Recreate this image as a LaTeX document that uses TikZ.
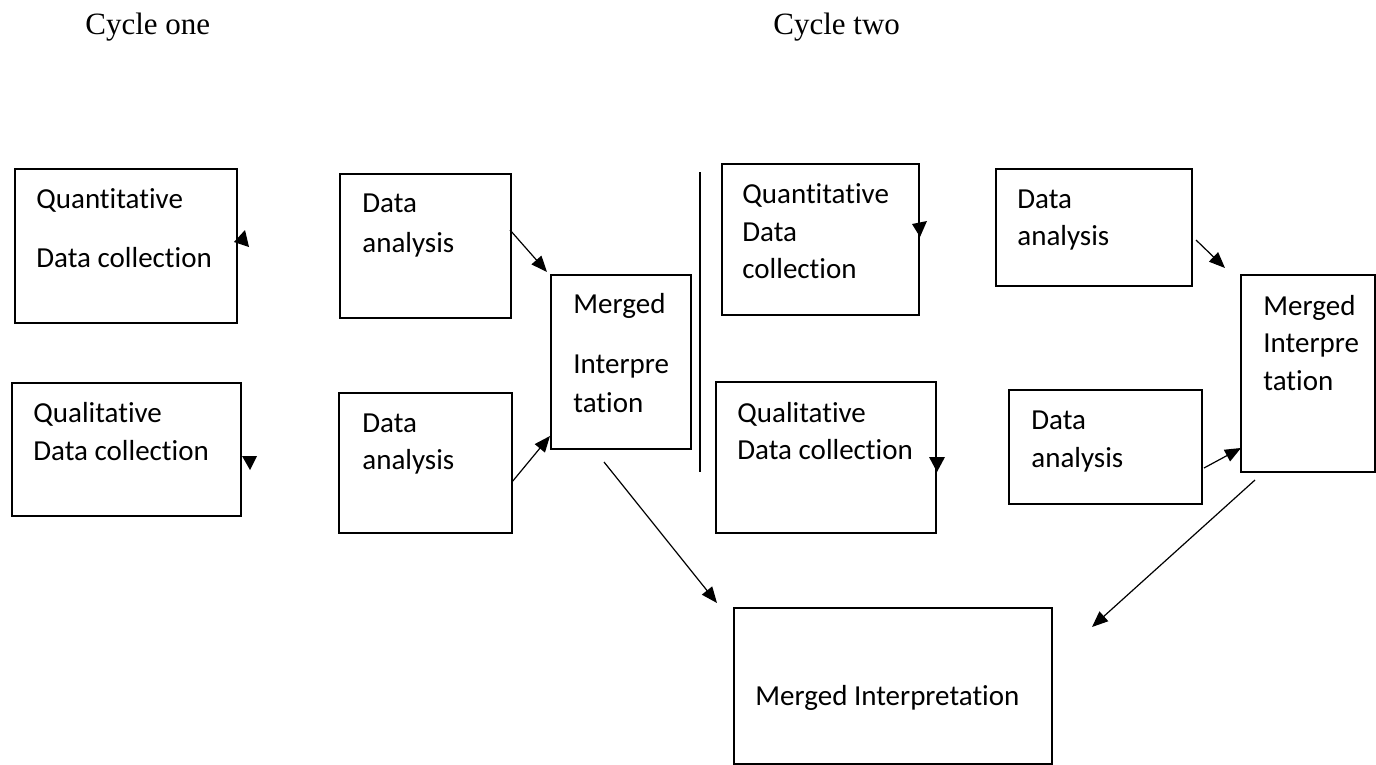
\documentclass[tikz,border=0pt]{standalone}
\usepackage{fontspec}
\setmainfont{Carlito}[Ligatures=CommonOff]
\newfontfamily\titlefont{Liberation Serif}
\usetikzlibrary{arrows.meta,fit}

\tikzset{
  box/.style={draw, line width=0.8pt, inner sep=0pt, fill=none},
  txt/.style={anchor=base west, inner sep=0pt, font=\fontsize{14.5}{17.4}\selectfont},
  ttl/.style={anchor=base west, inner sep=0pt, font=\titlefont\fontsize{15.5}{18}\selectfont},
  conn/.style={line width=0.6pt, -{Triangle[length=8pt,width=6.5pt]}},
  head/.style={fill=black},
  divider/.style={line width=0.6pt}
}

\begin{document}
\begin{tikzpicture}[x=0.5pt, y=-0.5pt]
\useasboundingbox (0,0) rectangle (1376,765);

% titles
\node[ttl] (t1) at (85,35) {Cycle one};
\node[ttl] (t2) at (773,35) {Cycle two};

% box corners
\coordinate (b1a) at (15,169);   \coordinate (b1b) at (237,323);
\coordinate (b2a) at (12,383);   \coordinate (b2b) at (241,516);
\coordinate (b3a) at (340,174);  \coordinate (b3b) at (511,318);
\coordinate (b4a) at (339,393);  \coordinate (b4b) at (512,533);
\coordinate (b5a) at (551,275);  \coordinate (b5b) at (691,449);
\coordinate (b6a) at (722,164);  \coordinate (b6b) at (919,315);
\coordinate (b7a) at (716,382);  \coordinate (b7b) at (936,533);
\coordinate (b8a) at (996,169);  \coordinate (b8b) at (1192,286);
\coordinate (b9a) at (1009,390); \coordinate (b9b) at (1202,504);
\coordinate (b10a) at (1241,275); \coordinate (b10b) at (1375,472);
\coordinate (b11a) at (734,608); \coordinate (b11b) at (1052,764);

% boxes
\node[box, fit=(b1a)(b1b)] (qn1) {};
\node[box, fit=(b2a)(b2b)] (ql1) {};
\node[box, fit=(b3a)(b3b)] (da1) {};
\node[box, fit=(b4a)(b4b)] (da2) {};
\node[box, fit=(b5a)(b5b)] (mi1) {};
\node[box, fit=(b6a)(b6b)] (qn2) {};
\node[box, fit=(b7a)(b7b)] (ql2) {};
\node[box, fit=(b8a)(b8b)] (da3) {};
\node[box, fit=(b9a)(b9b)] (da4) {};
\node[box, fit=(b10a)(b10b)] (mi2) {};
\node[box, fit=(b11a)(b11b)] (mi3) {};

% box texts
\node[txt] (qn1x) at (36,208) {Quantitative};
\node[txt] (qn1y) at (36,267) {Data collection};
\node[txt] (ql1x) at (33,422) {Qualitative};
\node[txt] (ql1y) at (33,460) {Data collection};
\node[txt] (da1x) at (362,213) {Data};
\node[txt] (da1y) at (362,252) {analysis};
\node[txt] (da2x) at (362,432) {Data};
\node[txt] (da2y) at (362,469) {analysis};
\node[txt] (mi1x) at (573,313) {Merged};
\node[txt] (mi1y) at (573,373) {Interpre};
\node[txt] (mi1z) at (573,412) {tation};
\node[txt] (qn2x) at (742,203) {Quantitative};
\node[txt] (qn2y) at (742,242) {Data};
\node[txt] (qn2z) at (742,278) {collection};
\node[txt] (ql2x) at (737,422) {Qualitative};
\node[txt] (ql2y) at (737,459) {Data collection};
\node[txt] (da3x) at (1017,208) {Data};
\node[txt] (da3y) at (1017,245) {analysis};
\node[txt] (da4x) at (1031,429) {Data};
\node[txt] (da4y) at (1031,467) {analysis};
\node[txt] (mi2x) at (1263,315) {Merged};
\node[txt] (mi2y) at (1263,352) {Interpre};
\node[txt] (mi2z) at (1263,390) {tation};
\node[txt] (mi3x) at (755,705) {Merged Interpretation};

% divider between the two cycles
\coordinate (dv1) at (700,172);
\coordinate (dv2) at (700,472);
\draw[divider] (dv1) -- (dv2);

% connector ends
\coordinate (c1s) at (510,230);   \coordinate (c1e) at (547,272);
\coordinate (c2s) at (512,482);   \coordinate (c2e) at (550,436);
\coordinate (c3s) at (604,462);   \coordinate (c3e) at (717,603);
\coordinate (c4s) at (1196,240);  \coordinate (c4e) at (1225,268);
\coordinate (c5s) at (1204,468);  \coordinate (c5e) at (1241,448);
\coordinate (c6s) at (1255,480);  \coordinate (c6e) at (1092,627);

\draw[conn] (c1s) -- (c1e);
\draw[conn] (c2s) -- (c2e);
\draw[conn] (c3s) -- (c3e);
\draw[conn] (c4s) -- (c4e);
\draw[conn] (c5s) -- (c5e);
\draw[conn] (c6s) -- (c6e);

% loose arrow tips at the collection boxes
\fill[head] (234,242) -- (245,230) -- (249,247) -- cycle;
\fill[head] (250,470) -- (242,456) -- (257,456) -- cycle;
\fill[head] (920,237) -- (912,224) -- (927,221) -- cycle;
\fill[head] (937,472) -- (929,457) -- (945,457) -- cycle;
\end{tikzpicture}
\end{document}
